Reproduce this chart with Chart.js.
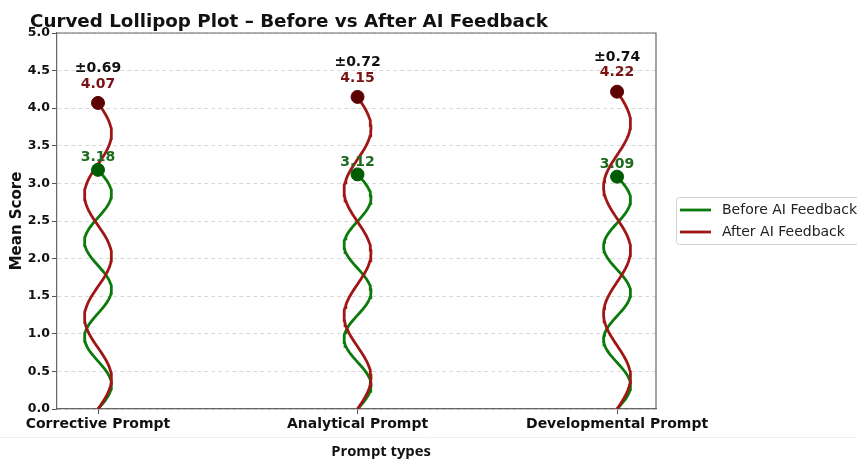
<!DOCTYPE html>
<html>
<head>
<meta charset="utf-8">
<script src="https://cdn.jsdelivr.net/npm/chart.js@4.4.1/dist/chart.umd.min.js"></script>
<style>
  html, body { margin: 0; padding: 0; background: #fff; }
</style>
</head>
<body>
<canvas id="chart-lollipop" width="857" height="460"></canvas>
<script>
const categories = ['Corrective Prompt', 'Analytical Prompt', 'Developmental Prompt'];
const beforeMeans = [3.18, 3.12, 3.09];
const afterMeans = [4.07, 4.15, 4.22];
const afterStd = [0.69, 0.72, 0.74];
const yTicks = [0, 0.5, 1, 1.5, 2, 2.5, 3, 3.5, 4, 4.5, 5];
const seriesNames = ['Before AI Feedback', 'After AI Feedback'];

const FONT = 'DejaVu Sans';
const GREEN = '#0b7a0b';
const RED = '#a01515';

// wavy stem from 0 up to each mean, centred on the category position
function curvedStems(means) {
  const pts = [];
  means.forEach((m, i) => {
    for (let k = 0; k <= 120; k++) {
      const t = k / 120;
      pts.push({x: i + 0.052 * Math.sin(5 * Math.PI * t), y: m * t});
    }
    pts.push({x: i, y: NaN}); // break between stems
  });
  return pts;
}

const extras = {
  id: 'lollipopExtras',
  afterDraw(chart) {
    const {ctx, chartArea: area, scales: {x, y}} = chart;
    ctx.save();

    // top + right spines
    ctx.strokeStyle = '#666';
    ctx.lineWidth = 1.2;
    ctx.beginPath();
    ctx.moveTo(area.left, area.top);
    ctx.lineTo(area.right, area.top);
    ctx.lineTo(area.right, area.bottom);
    ctx.stroke();

    // faint separator under the tick labels
    ctx.strokeStyle = '#f0f0f0';
    ctx.lineWidth = 1;
    ctx.beginPath();
    ctx.moveTo(0, 437.5);
    ctx.lineTo(chart.width, 437.5);
    ctx.stroke();

    // value labels
    ctx.textAlign = 'center';
    ctx.textBaseline = 'middle';
    ctx.font = 'bold 14px "' + FONT + '"';
    categories.forEach((c, i) => {
      const px = x.getPixelForValue(i);
      ctx.fillStyle = '#1d6b1d';
      ctx.fillText(beforeMeans[i].toFixed(2), px, y.getPixelForValue(beforeMeans[i] + 0.16));
      ctx.fillStyle = '#7a1414';
      ctx.fillText(afterMeans[i].toFixed(2), px, y.getPixelForValue(afterMeans[i] + 0.25));
      ctx.fillStyle = '#111';
      ctx.fillText('±' + afterStd[i].toFixed(2), px, y.getPixelForValue(afterMeans[i] + 0.46));
    });

    // x axis title (sits right of the plot centre in the original)
    ctx.font = 'bold 14.8px "Open Sans"';
    ctx.fillStyle = '#111';
    ctx.fillText('Prompt types', 381, 452);

    // title
    ctx.textAlign = 'left';
    ctx.textBaseline = 'alphabetic';
    ctx.font = 'bold 18.3px "' + FONT + '"';
    ctx.fillText('Curved Lollipop Plot \u2013 Before vs After AI Feedback', 30, 27);

    // legend box outside the plot on the right
    const lx = area.right + 20, ly = area.top + 164;
    ctx.fillStyle = '#fff';
    ctx.strokeStyle = '#d0d0d0';
    ctx.lineWidth = 1;
    ctx.beginPath();
    ctx.roundRect(lx + 0.5, ly + 0.5, 220, 47, 3);
    ctx.fill();
    ctx.stroke();
    ctx.font = '14px "' + FONT + '"';
    ctx.textBaseline = 'middle';
    [GREEN, RED].forEach((col, k) => {
      const yy = ly + 13 + k * 22;
      ctx.strokeStyle = col;
      ctx.lineWidth = 2.8;
      ctx.beginPath();
      ctx.moveTo(lx + 4, yy);
      ctx.lineTo(lx + 35, yy);
      ctx.stroke();
      ctx.fillStyle = '#222';
      ctx.fillText(seriesNames[k], lx + 46, yy);
    });

    ctx.restore();
  }
};

const ctx = document.getElementById('chart-lollipop').getContext('2d');
new Chart(ctx, {
  type: 'line',
  data: {
    datasets: [
      {
        label: seriesNames[1] + ' points',
        data: afterMeans.map((v, i) => ({x: i, y: v})),
        showLine: false,
        pointRadius: 6.5,
        pointBackgroundColor: '#5c0000',
        pointBorderColor: '#5c0000',
        order: 0
      },
      {
        label: seriesNames[0] + ' points',
        data: beforeMeans.map((v, i) => ({x: i, y: v})),
        showLine: false,
        pointRadius: 6.5,
        pointBackgroundColor: '#005c00',
        pointBorderColor: '#005c00',
        order: 0
      },
      {
        label: seriesNames[1],
        data: curvedStems(afterMeans),
        borderColor: RED,
        borderWidth: 2.8,
        pointRadius: 0,
        tension: 0,
        spanGaps: false,
        order: 1
      },
      {
        label: seriesNames[0],
        data: curvedStems(beforeMeans),
        borderColor: GREEN,
        borderWidth: 2.8,
        pointRadius: 0,
        tension: 0,
        spanGaps: false,
        order: 2
      }
    ]
  },
  options: {
    responsive: false,
    animation: false,
    layout: {padding: {top: 33, right: 201, bottom: 0, left: 0}},
    plugins: {
      legend: {display: false},
      tooltip: {enabled: false},
      title: {display: false}
    },
    scales: {
      x: {
        type: 'linear',
        min: -0.158,
        max: 2.15,
        afterBuildTicks: s => { s.ticks = categories.map((c, i) => ({value: i})); },
        afterFit: s => { s.height = 51; },
        ticks: {
          callback: v => categories[v],
          font: {family: FONT, size: 14, weight: 'bold'},
          color: '#111',
          padding: 2,
          maxRotation: 0,
          autoSkip: false
        },
        grid: {drawOnChartArea: false, tickLength: 5, tickColor: '#555'},
        border: {color: '#666', width: 1.2},
        title: {display: false}
      },
      y: {
        min: 0,
        max: 5,
        afterBuildTicks: s => { s.ticks = yTicks.map(v => ({value: v})); },
        afterFit: s => { s.width = 57; },
        ticks: {
          callback: v => v.toFixed(1),
          font: {family: FONT, size: 12.5, weight: 'bold'},
          color: '#111',
          padding: 2
        },
        grid: {color: '#d9d9d9', lineWidth: 1, tickLength: 5, tickColor: '#555'},
        border: {color: '#666', width: 1.2, dash: [4, 3]},
        title: {
          display: true,
          text: 'Mean Score',
          font: {family: FONT, size: 15, weight: 'bold'},
          color: '#111',
          padding: {top: 8, bottom: 0}
        }
      }
    }
  },
  plugins: [extras]
});
</script>
</body>
</html>
